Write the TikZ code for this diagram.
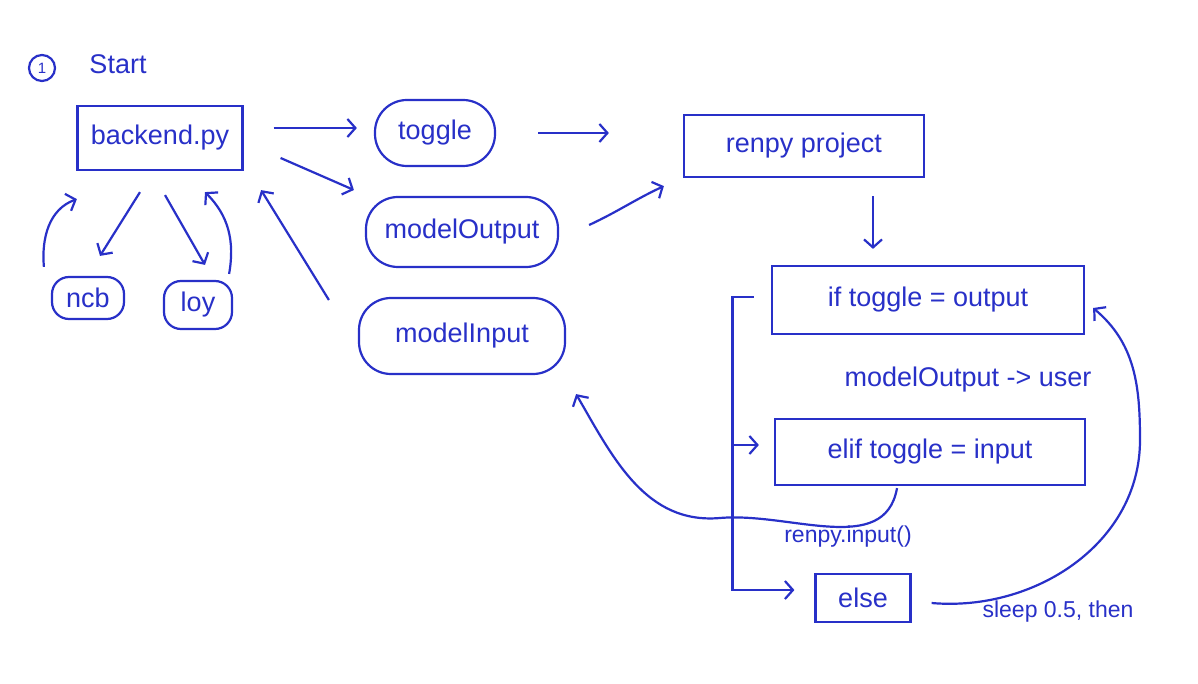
\documentclass[tikz,border=0pt]{standalone}
\usepackage{fontspec}
\setmainfont{Liberation Sans}
\usetikzlibrary{arrows.meta}
\definecolor{pen}{RGB}{40,48,200}

\begin{document}
\begin{tikzpicture}[x=1pt,y=-1pt,->,>={Straight Barb[length=8pt,width=18pt]},
                    line width=2.2pt,color=pen,font=\fontsize{27}{32}\selectfont]
  \tikzstyle{box}=[draw, rectangle, minimum height=64pt, inner sep=4pt]
  \tikzstyle{blob}=[draw, rectangle, rounded corners=32pt, minimum height=66pt]
  \tikzstyle{pill}=[draw, rectangle, rounded corners=17pt, inner sep=2pt]
  \tikzstyle{note}=[font=\fontsize{23}{27}\selectfont]

  \useasboundingbox[fill=white] (0,0) rectangle (1198,684);

  \node[draw, circle, minimum size=26pt, inner sep=0pt,
        font=\fontsize{15}{18}\selectfont] (one) at (42,68) {1};
  \node (start) at (118,64) {Start};

  \node[box, minimum width=165pt]  (backend) at (160,138) {backend.py};
  \node[blob, minimum width=120pt] (toggle)  at (435,133) {toggle};
  \node[blob, minimum width=192pt, minimum height=70pt] (output) at (462,232) {modelOutput};
  \node[blob, minimum width=206pt, minimum height=76pt] (input)  at (462,336) {modelInput};
  \node[pill, minimum width=72pt, minimum height=42pt] (ncb) at (88,298)  {ncb};
  \node[pill, minimum width=68pt, minimum height=48pt] (loy) at (198,305) {loy};

  \node[box, minimum width=240pt, minimum height=62pt] (renpy) at (804,146) {renpy project};
  \node[box, minimum width=312pt, minimum height=68pt] (iftoggle)   at (928,300) {if toggle = output};
  \node (user) at (968,380) {modelOutput -> user};
  \node[box, minimum width=310pt, minimum height=66pt] (eliftoggle) at (930,452) {elif toggle = input};
  \node[note] (rinput) at (848,537) {renpy.input()};
  \node[box, minimum width=95pt, minimum height=48pt]  (else)   at (863,598) {else};
  \node[note] (sleep) at (1058,612) {sleep 0.5, then};

  % backend.py and its helpers
  \draw ([xshift=30pt,yshift=10pt]backend.east) -- ([xshift=-17pt,yshift=5pt]toggle.west);
  \draw ([xshift=37pt,yshift=-20pt]backend.east) -- ([xshift=-11pt,yshift=42pt]output.west);
  \draw ([xshift=-29pt,yshift=36pt]input.west) -- ([xshift=17.5pt,yshift=-19pt]backend.south east);
  \draw ([xshift=-20pt,yshift=-21pt]backend.south) -- ([xshift=12pt,yshift=20pt]ncb.north);
  \draw ([xshift=5pt,yshift=-24pt]backend.south) -- ([xshift=7pt,yshift=15pt]loy.north);
  \draw ([xshift=-7pt,yshift=9pt]ncb.north west) to[out=95,in=200]
        ([xshift=0.5pt,yshift=-28pt]backend.south west);
  \draw ([xshift=-4pt,yshift=6pt]loy.north east) to[out=80,in=-45]
        ([xshift=45pt,yshift=-21pt]backend.south);

  % into the renpy project
  \draw ([xshift=42pt]toggle.east) -- ([xshift=-74pt,yshift=13pt]renpy.west);
  \draw ([xshift=30pt,yshift=7pt]output.east) to[out=25,in=205]
        ([xshift=-19pt,yshift=-8pt]renpy.south west);
  \draw ([xshift=69pt,yshift=-18pt]renpy.south) -- ([xshift=-55pt,yshift=16pt]iftoggle.north);

  % branches
  \draw ([xshift=-17pt,yshift=3pt]iftoggle.west) -| ([xshift=-82pt,yshift=8pt]else.west)
        -- ([xshift=-20pt,yshift=8pt]else.west);
  \draw ([xshift=-42pt,yshift=7pt]eliftoggle.west) -- ([xshift=-15pt,yshift=7pt]eliftoggle.west);
  \draw ([xshift=-33pt,yshift=-2pt]eliftoggle.south) to[out=-100,in=5] (720,518)
        to[out=185,in=-60] ([xshift=10pt,yshift=-19pt]input.south east);
  \draw ([xshift=20pt,yshift=-5pt]else.east) to[out=-5,in=-90] (1140,440)
        to[out=90,in=-40] ([xshift=8pt,yshift=-8pt]iftoggle.east);
\end{tikzpicture}
\end{document}
